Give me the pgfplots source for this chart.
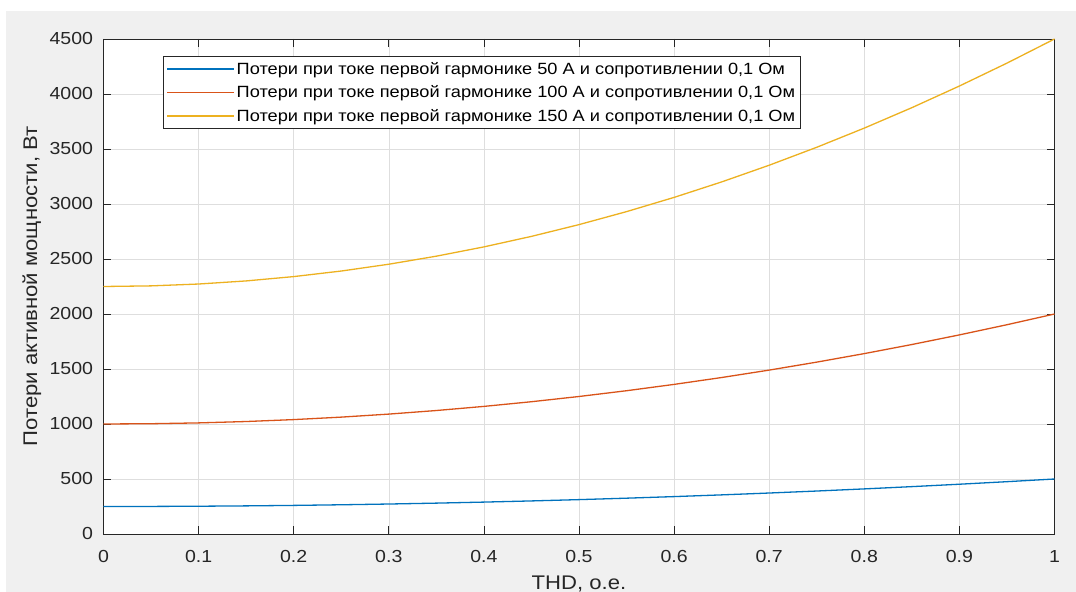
\documentclass[border=0pt]{standalone}
\usepackage{fontspec}
\setmainfont{Liberation Sans}[FakeStretch=1.12]
\usepackage{pgfplots}
\pgfplotsset{compat=1.18}
\definecolor{mblue}{rgb}{0,0.447,0.741}
\definecolor{morange}{rgb}{0.85,0.325,0.098}
\definecolor{myellow}{rgb}{0.929,0.694,0.125}
\definecolor{figgray}{rgb}{0.94,0.94,0.94}
\definecolor{axgray}{rgb}{0.15,0.15,0.15}
\definecolor{gridgray}{rgb}{0.87,0.87,0.87}
\begin{document}
\begin{tikzpicture}[x=1bp,y=1bp]
\clip (-103.5,-58) rectangle (972.5,534);
\fill[white] (-103.5,-58) rectangle (972.5,534);
\fill[figgray] (-97.5,-58) rectangle (972.5,523);
\begin{axis}[
  at={(0,0)}, anchor=south west,
  scale only axis, width=951bp, height=495bp,
  xmin=0, xmax=1, ymin=0, ymax=4500,
  xtick={0,0.1,0.2,0.3,0.4,0.5,0.6,0.7,0.8,0.9,1},
  ytick={0,500,1000,1500,2000,2500,3000,3500,4000,4500},
  scaled ticks=false,
  /pgf/number format/assume math mode=true,
  /pgf/number format/1000 sep={},
  grid=major,
  grid style={color=gridgray, line width=0.6bp},
  axis line style={color=axgray, line width=0.8bp},
  tick style={color=axgray, line width=0.8bp},
  major tick length=8bp,
  tick align=inside,
  axis background/.style={fill=white},
  ticklabel style={font=\fontsize{17.5}{20}\selectfont, color=axgray},
  xticklabel style={yshift=-13bp},
  yticklabel style={xshift=-7bp},
  xlabel={THD, о.е.},
  ylabel={Потери активной мощности, Вт},
  every axis x label/.style={at={(axis description cs:0.5,-0.1131)}, anchor=base,
    font=\fontsize{19.8}{22}\selectfont, color=axgray},
  every axis y label/.style={at={(axis description cs:-0.0699,0.5)}, rotate=90, anchor=base,
    font=\fontsize{19.8}{22}\selectfont, color=axgray},
  legend style={at={(axis description cs:0.0626,0.966)}, anchor=north west,
    draw=axgray, line width=0.8bp, fill=white,
    font=\fontsize{16.3}{19}\selectfont, text=black,
    inner xsep=3bp, inner ysep=4bp, row sep=6bp},
  legend cell align=left,
  legend image code/.code={\draw[#1, line width=1.1bp] (5bp,0bp) -- (64bp,0bp);
    \path (0bp,0bp) -- (67bp,0bp);},
]
\addplot[mblue, line width=1.3bp] coordinates {
(0,250) (0.05,250.625) (0.1,252.5) (0.15,255.625) (0.2,260) (0.25,265.625) (0.3,272.5) (0.35,280.625) (0.4,290) (0.45,300.625) (0.5,312.5) (0.55,325.625) (0.6,340) (0.65,355.625) (0.7,372.5) (0.75,390.625) (0.8,410) (0.85,430.625) (0.9,452.5) (0.95,475.625) (1,500)};
\addlegendentry{Потери при токе первой гармонике 50 А и сопротивлении 0,1 Ом}
\addplot[morange, line width=1.3bp] coordinates {
(0,1000) (0.05,1002.5) (0.1,1010) (0.15,1022.5) (0.2,1040) (0.25,1062.5) (0.3,1090) (0.35,1122.5) (0.4,1160) (0.45,1202.5) (0.5,1250) (0.55,1302.5) (0.6,1360) (0.65,1422.5) (0.7,1490) (0.75,1562.5) (0.8,1640) (0.85,1722.5) (0.9,1810) (0.95,1902.5) (1,2000)};
\addlegendentry{Потери при токе первой гармонике 100 А и сопротивлении 0,1 Ом}
\addplot[myellow, line width=1.3bp] coordinates {
(0,2250) (0.05,2255.625) (0.1,2272.5) (0.15,2300.625) (0.2,2340) (0.25,2390.625) (0.3,2452.5) (0.35,2525.625) (0.4,2610) (0.45,2705.625) (0.5,2812.5) (0.55,2930.625) (0.6,3060) (0.65,3200.625) (0.7,3352.5) (0.75,3515.625) (0.8,3690) (0.85,3875.625) (0.9,4072.5) (0.95,4280.625) (1,4500)};
\addlegendentry{Потери при токе первой гармонике 150 А и сопротивлении 0,1 Ом}
\end{axis}
\end{tikzpicture}
\end{document}
